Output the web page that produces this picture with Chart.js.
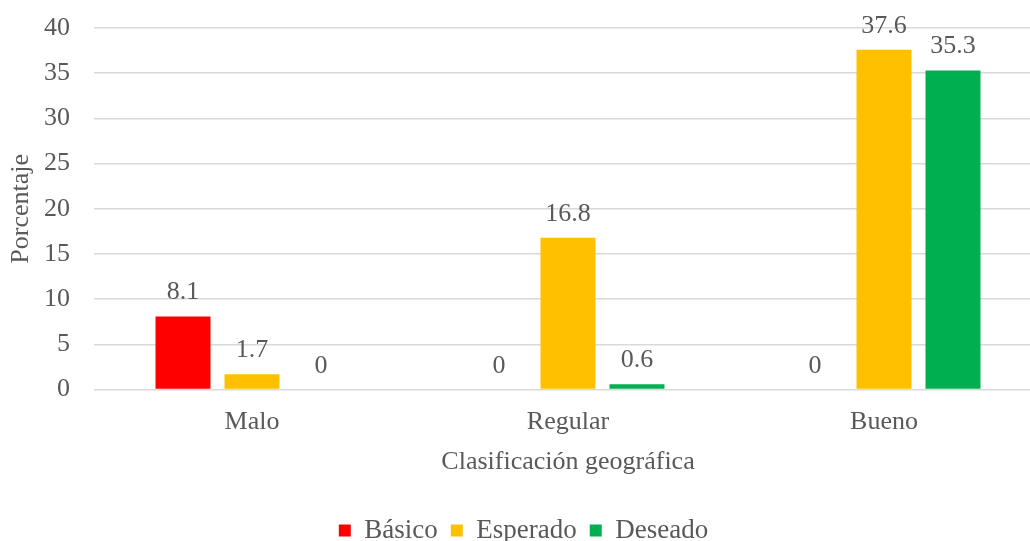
<!DOCTYPE html>
<html lang="es">
<head>
    <meta charset="UTF-8">
    <title>Clasificación geográfica</title>
    <script src="https://cdn.jsdelivr.net/npm/chart.js"></script>
    <style>
        body { margin: 0; background: #fff; overflow: hidden; }
        /* el área de trazado del original sigue más allá del borde derecho */
        #wrap { width: 1042px; height: 541px; }
    </style>
</head>
<body>
    <div id="wrap"><canvas id="chart"></canvas></div>
    <script>
        const categories = ['Malo', 'Regular', 'Bueno'];
        const basico = [8.1, 0, 0];
        const esperado = [1.7, 16.8, 37.6];
        const deseado = [0, 0.6, 35.3];

        const gray = '#595959';
        const fontFamily = '"Liberation Serif", "Times New Roman", serif';

        // etiquetas de valor encima de cada barra
        const valueLabels = {
            id: 'valueLabels',
            afterDatasetsDraw(chart) {
                const ctx = chart.ctx;
                ctx.save();
                ctx.font = '26px ' + fontFamily;
                ctx.fillStyle = gray;
                ctx.textAlign = 'center';
                ctx.textBaseline = 'alphabetic';
                chart.data.datasets.forEach((ds, i) => {
                    chart.getDatasetMeta(i).data.forEach((bar, j) => {
                        ctx.fillText(String(ds.data[j]), bar.x, bar.y - 17);
                    });
                });
                ctx.restore();
            }
        };

        new Chart(document.getElementById('chart'), {
            type: 'bar',
            data: {
                labels: categories,
                datasets: [
                    { label: 'Básico', data: basico, backgroundColor: '#ff0000' },
                    { label: 'Esperado', data: esperado, backgroundColor: '#ffc000' },
                    { label: 'Deseado', data: deseado, backgroundColor: '#00b050' }
                ]
            },
            options: {
                responsive: true,
                maintainAspectRatio: false,
                animation: false,
                categoryPercentage: 0.655,
                barPercentage: 0.797,
                layout: { padding: { top: 28, right: 0, left: 5, bottom: -13 } },
                plugins: {
                    legend: {
                        position: 'bottom',
                        labels: {
                            font: { family: fontFamily, size: 27 },
                            color: gray,
                            boxWidth: 12,
                            boxHeight: 12,
                            padding: 13
                        }
                    },
                    tooltip: { enabled: false }
                },
                scales: {
                    x: {
                        grid: { display: false, drawTicks: false },
                        border: { display: false },
                        ticks: { font: { family: fontFamily, size: 26 }, color: gray, padding: 17 },
                        title: {
                            display: true,
                            text: 'Clasificación geográfica',
                            font: { family: fontFamily, size: 26 },
                            color: gray,
                            padding: { top: -8, bottom: 26 }
                        }
                    },
                    y: {
                        min: 0,
                        max: 40,
                        ticks: { stepSize: 5, font: { family: fontFamily, size: 26 }, color: gray, padding: 24 },
                        grid: { color: '#d9d9d9', lineWidth: 1.5, drawTicks: false },
                        border: { display: false },
                        title: {
                            display: true,
                            text: 'Porcentaje',
                            font: { family: fontFamily, size: 26 },
                            color: gray,
                            padding: { top: 1, bottom: 7 }
                        },
                        // la escala cuenta el padding dos veces; se fija el ancho
                        afterFit(scale) {
                            scale.width = 89;
                            scale.paddingTop = 0;
                            scale.paddingBottom = 0;
                        }
                    }
                }
            },
            plugins: [valueLabels]
        });
    </script>
</body>
</html>
